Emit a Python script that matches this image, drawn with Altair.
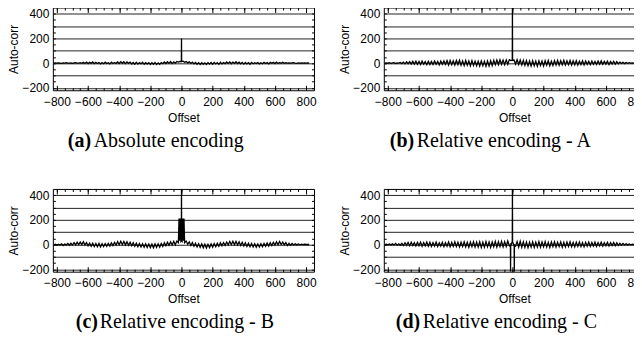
import altair as alt
import pandas as pd

# x positions of the sampled auto-correlation values (every 10 offsets)
offsets = list(range(-820, 821, 10))

vals_a = [
    0, 1, -1, 2, 0, -2, 1, 0, 3, -1,
    0, 2, -2, 1, 4, -1, 0, 3, -2, 6,
    -3, 8, -4, 7, -2, 9, -5, 6, -3, 5,
    -6, 4, -5, 7, -4, 3, -6, 8, -3, 5,
    -2, 10, -3, 12, -1, 11, -4, 9, -2, 8,
    -7, 5, -9, 6, -8, 4, -6, 7, -10, 3,
    -8, 4, -11, 3, -9, 5, -12, 2, -10, 4,
    -5, 9, -3, 11, -2, 12, -4, 10, -1, 13,
    8, 14, 200, 15, 6, 12, 2, 10, -3, 8,
    -6, 5, -9, 4, -11, 3, -10, 2, -12, 4,
    -8, 5, -9, 6, -7, 4, -10, 7, -6, 5,
    -4, 9, -3, 10, -5, 8, -2, 11, -4, 7,
    -6, 6, -8, 5, -7, 4, -9, 6, -5, 3,
    -4, 5, -6, 3, -5, 6, -3, 4, -6, 7,
    -2, 6, -4, 8, -3, 5, -1, 7, -2, 3,
    0, 2, -1, 1, 3, 0, -2, 1, 0, 2,
    -1, 1, 0, 2, 0,
]

vals_b = [
    0, 2, -1, 3, -2, 1, 4, -3, 2, 0,
    5, -4, 8, -6, 10, -5, 12, -7, 14, -8,
    15, -10, 13, -12, 16, -9, 12, -13, 15, -11,
    14, -12, 17, -10, 13, -14, 16, -9, 18, -11,
    20, -15, 22, -13, 19, -16, 21, -12, 23, -17,
    18, -20, 21, -18, 17, -22, 20, -19, 16, -21,
    15, -24, 18, -22, 14, -26, 17, -23, 19, -20,
    22, -14, 25, -12, 27, -10, 24, -13, 26, -9,
    28, 20, 470, 25, -8, 27, -12, 24, -15, 22,
    -18, 20, -21, 17, -24, 19, -22, 16, -25, 18,
    -20, 17, -23, 19, -18, 21, -22, 16, -19, 20,
    -15, 22, -17, 20, -14, 23, -16, 19, -13, 21,
    -16, 18, -14, 20, -17, 16, -12, 19, -15, 17,
    -11, 15, -13, 17, -10, 14, -12, 16, -9, 18,
    -10, 14, -8, 16, -11, 12, -7, 15, -9, 11,
    -5, 8, -3, 6, -4, 5, -2, 3, 0, 2,
    -1, 1, 0, 2, 0,
]

vals_c = [
    -2, 3, -5, 2, -4, 6, -8, 4, -3, 8,
    -6, 10, -4, 15, -2, 18, 0, 20, -1, 22,
    -5, 16, -10, 12, -14, 10, -16, 8, -18, 9,
    -20, 6, -17, 8, -15, 10, -12, 14, -8, 18,
    -4, 24, -2, 26, 0, 25, -3, 22, -6, 18,
    -10, 14, -14, 10, -18, 8, -20, 6, -22, 5,
    -24, 4, -25, 3, -26, 5, -24, 6, -22, 8,
    -16, 14, -10, 18, -6, 22, -4, 26, -2, 28,
    15, 205, 460, 205, 15, 28, 2, 22, -8, 16,
    -14, 10, -20, 6, -24, 4, -27, 3, -28, 2,
    -26, 5, -22, 8, -18, 10, -14, 14, -10, 16,
    -6, 20, -2, 24, 0, 26, -1, 25, -4, 22,
    -8, 18, -12, 14, -16, 10, -18, 8, -20, 6,
    -22, 5, -20, 7, -18, 9, -15, 12, -12, 15,
    -8, 18, -4, 22, -2, 24, 0, 20, -3, 16,
    -8, 10, -6, 8, -4, 5, -3, 4, -2, 3,
    -1, 2, 0, 1, 0,
]

vals_d = [
    0, 3, -2, 4, -3, 5, -4, 8, -5, 6,
    -6, 10, -8, 14, -7, 16, -10, 18, -9, 15,
    -12, 17, -10, 19, -14, 16, -11, 20, -13, 18,
    -15, 16, -12, 19, -16, 14, -13, 18, -17, 15,
    -14, 20, -18, 17, -15, 22, -16, 19, -20, 18,
    -17, 21, -19, 18, -22, 20, -18, 23, -21, 19,
    -20, 22, -23, 19, -21, 24, -19, 21, -24, 20,
    -18, 25, -21, 22, -17, 26, -20, 23, -16, 28,
    -10, -8, 470, -6, -12, 24, -20, 26, -22, 21,
    -23, 20, -25, 18, -21, 22, -24, 19, -20, 23,
    -22, 20, -19, 24, -21, 18, -23, 21, -18, 22,
    -20, 19, -17, 21, -22, 18, -19, 20, -16, 22,
    -18, 17, -20, 19, -15, 21, -17, 16, -19, 18,
    -14, 20, -16, 17, -13, 19, -15, 16, -12, 18,
    -13, 15, -10, 17, -12, 14, -9, 16, -11, 13,
    -7, 10, -5, 8, -4, 6, -3, 5, -2, 3,
    -1, 2, 0, 1, 0,
]

# extra samples near the central peak of each panel
extra_off_a = [-1, 1]
extra_val_a = [12, 14]
extra_off_b = [-1, 1]
extra_val_b = [25, 22]
extra_off_c = [-16, -13, -7, -4, -1, 1, 4, 7, 13, 16]
extra_val_c = [210, 30, 205, 25, 30, 30, 25, 205, 30, 210]
extra_off_d = [-13, -12, -11, -1, 1, 11, 12, 13]
extra_val_d = [-5, -235, 10, 25, 20, 5, -235, -8]

caption_tags = ["(a)", "(b)", "(c)", "(d)"]
caption_texts = ["Absolute encoding", "Relative encoding - A",
                 "Relative encoding - B", "Relative encoding - C"]

x_major = list(range(-800, 801, 200))
x_minor = list(range(-800, 801, 50))
y_labels = [-200, 0, 200, 400]
y_grid = [-200, -100, 0, 100, 200, 300, 400]
y_minor = list(range(-200, 401, 50))

W, H = 262, 83
XDOM = [-826, 851]
YDOM = [-220, 450]
MAJ, MIN = 5, 2.5
CAP_Y = 140


def panel(vals, extra_off, extra_vals, tag, text, cap_x, cap_dx):
    xs = list(offsets) + list(extra_off)
    ys = list(vals) + list(extra_vals)
    df = pd.DataFrame({"offset": xs, "value": ys}).sort_values("offset")
    xsc = alt.Scale(domain=XDOM, nice=False, zero=False)
    ysc = alt.Scale(domain=YDOM, nice=False, zero=False)

    base = alt.Chart(df)
    line = base.mark_line(color="black", strokeWidth=1.3, clip=True).encode(
        x=alt.X("offset:Q", scale=xsc, title="Offset",
                axis=alt.Axis(values=x_major, orient="bottom", offset=-MAJ,
                              tickSize=MAJ, domain=False, grid=False,
                              labelPadding=6, titlePadding=5)),
        y=alt.Y("value:Q", scale=ysc, title="Auto-corr",
                axis=alt.Axis(values=y_labels, orient="left", ticks=False,
                              tickSize=0, domain=False, grid=False,
                              labelPadding=4, titlePadding=1)),
    )
    inv = base.mark_line(opacity=0)
    l2 = inv.encode(
        x=alt.X("offset:Q", scale=xsc, title=None,
                axis=alt.Axis(values=x_major, orient="top", offset=-MAJ,
                              tickSize=MAJ, domain=False, grid=False,
                              labels=False)),
        y=alt.Y("value:Q", scale=ysc, title=None,
                axis=alt.Axis(values=y_grid, orient="left", ticks=False,
                              domain=False, labels=False, grid=True,
                              gridColor="#222", gridWidth=1, gridOpacity=1)),
    )
    l3 = inv.encode(
        x=alt.X("offset:Q", scale=xsc, title=None,
                axis=alt.Axis(values=x_minor, orient="bottom", offset=-MIN,
                              tickSize=MIN, domain=False, grid=False,
                              labels=False)),
        y=alt.Y("value:Q", scale=ysc, title=None,
                axis=alt.Axis(values=y_minor, orient="left", offset=-MIN,
                              tickSize=MIN, domain=False, grid=False,
                              labels=False)),
    )
    l4 = inv.encode(
        x=alt.X("offset:Q", scale=xsc, title=None,
                axis=alt.Axis(values=x_minor, orient="top", offset=-MIN,
                              tickSize=MIN, domain=False, grid=False,
                              labels=False)),
        y=alt.Y("value:Q", scale=ysc, title=None,
                axis=alt.Axis(values=y_minor, orient="right", offset=-MIN,
                              tickSize=MIN, domain=False, grid=False,
                              labels=False)),
    )
    cap1 = alt.Chart(pd.DataFrame({"t": [tag]})).mark_text(
        font="Liberation Serif", fontSize=20, fontWeight="bold",
        align="left", baseline="alphabetic", color="black"
    ).encode(x=alt.value(cap_x), y=alt.value(CAP_Y), text="t:N")
    cap2 = alt.Chart(pd.DataFrame({"t": [text]})).mark_text(
        font="Liberation Serif", fontSize=20, fontWeight="normal",
        align="left", baseline="alphabetic", color="black"
    ).encode(x=alt.value(cap_x + cap_dx), y=alt.value(CAP_Y), text="t:N")

    return alt.layer(line, l2, l3, l4, cap1, cap2).resolve_axis(
        x="independent", y="independent"
    ).properties(width=W, height=H)


pa = panel(vals_a, extra_off_a, extra_val_a, caption_tags[0], caption_texts[0], 15, 26)
pb = panel(vals_b, extra_off_b, extra_val_b, caption_tags[1], caption_texts[1], 6, 27)
pc = panel(vals_c, extra_off_c, extra_val_c, caption_tags[2], caption_texts[2], 23, 24)
pd_ = panel(vals_d, extra_off_d, extra_val_d, caption_tags[3], caption_texts[3], 12, 27)

chart = alt.vconcat(
    alt.hconcat(pa, pb, spacing=21),
    alt.hconcat(pc, pd_, spacing=21),
    spacing=34,
).properties(
    padding={"left": -1, "top": -4, "right": -14, "bottom": 0}
).configure_axis(
    labelFont="Liberation Sans", labelFontSize=12, labelColor="black",
    titleFont="Liberation Sans", titleFontSize=12, titleColor="black",
    titleFontWeight="normal", tickColor="black", tickWidth=1,
).configure_view(stroke="black", strokeWidth=1)

chart.save("out.html", embed_options={"renderer": "svg", "actions": False})
